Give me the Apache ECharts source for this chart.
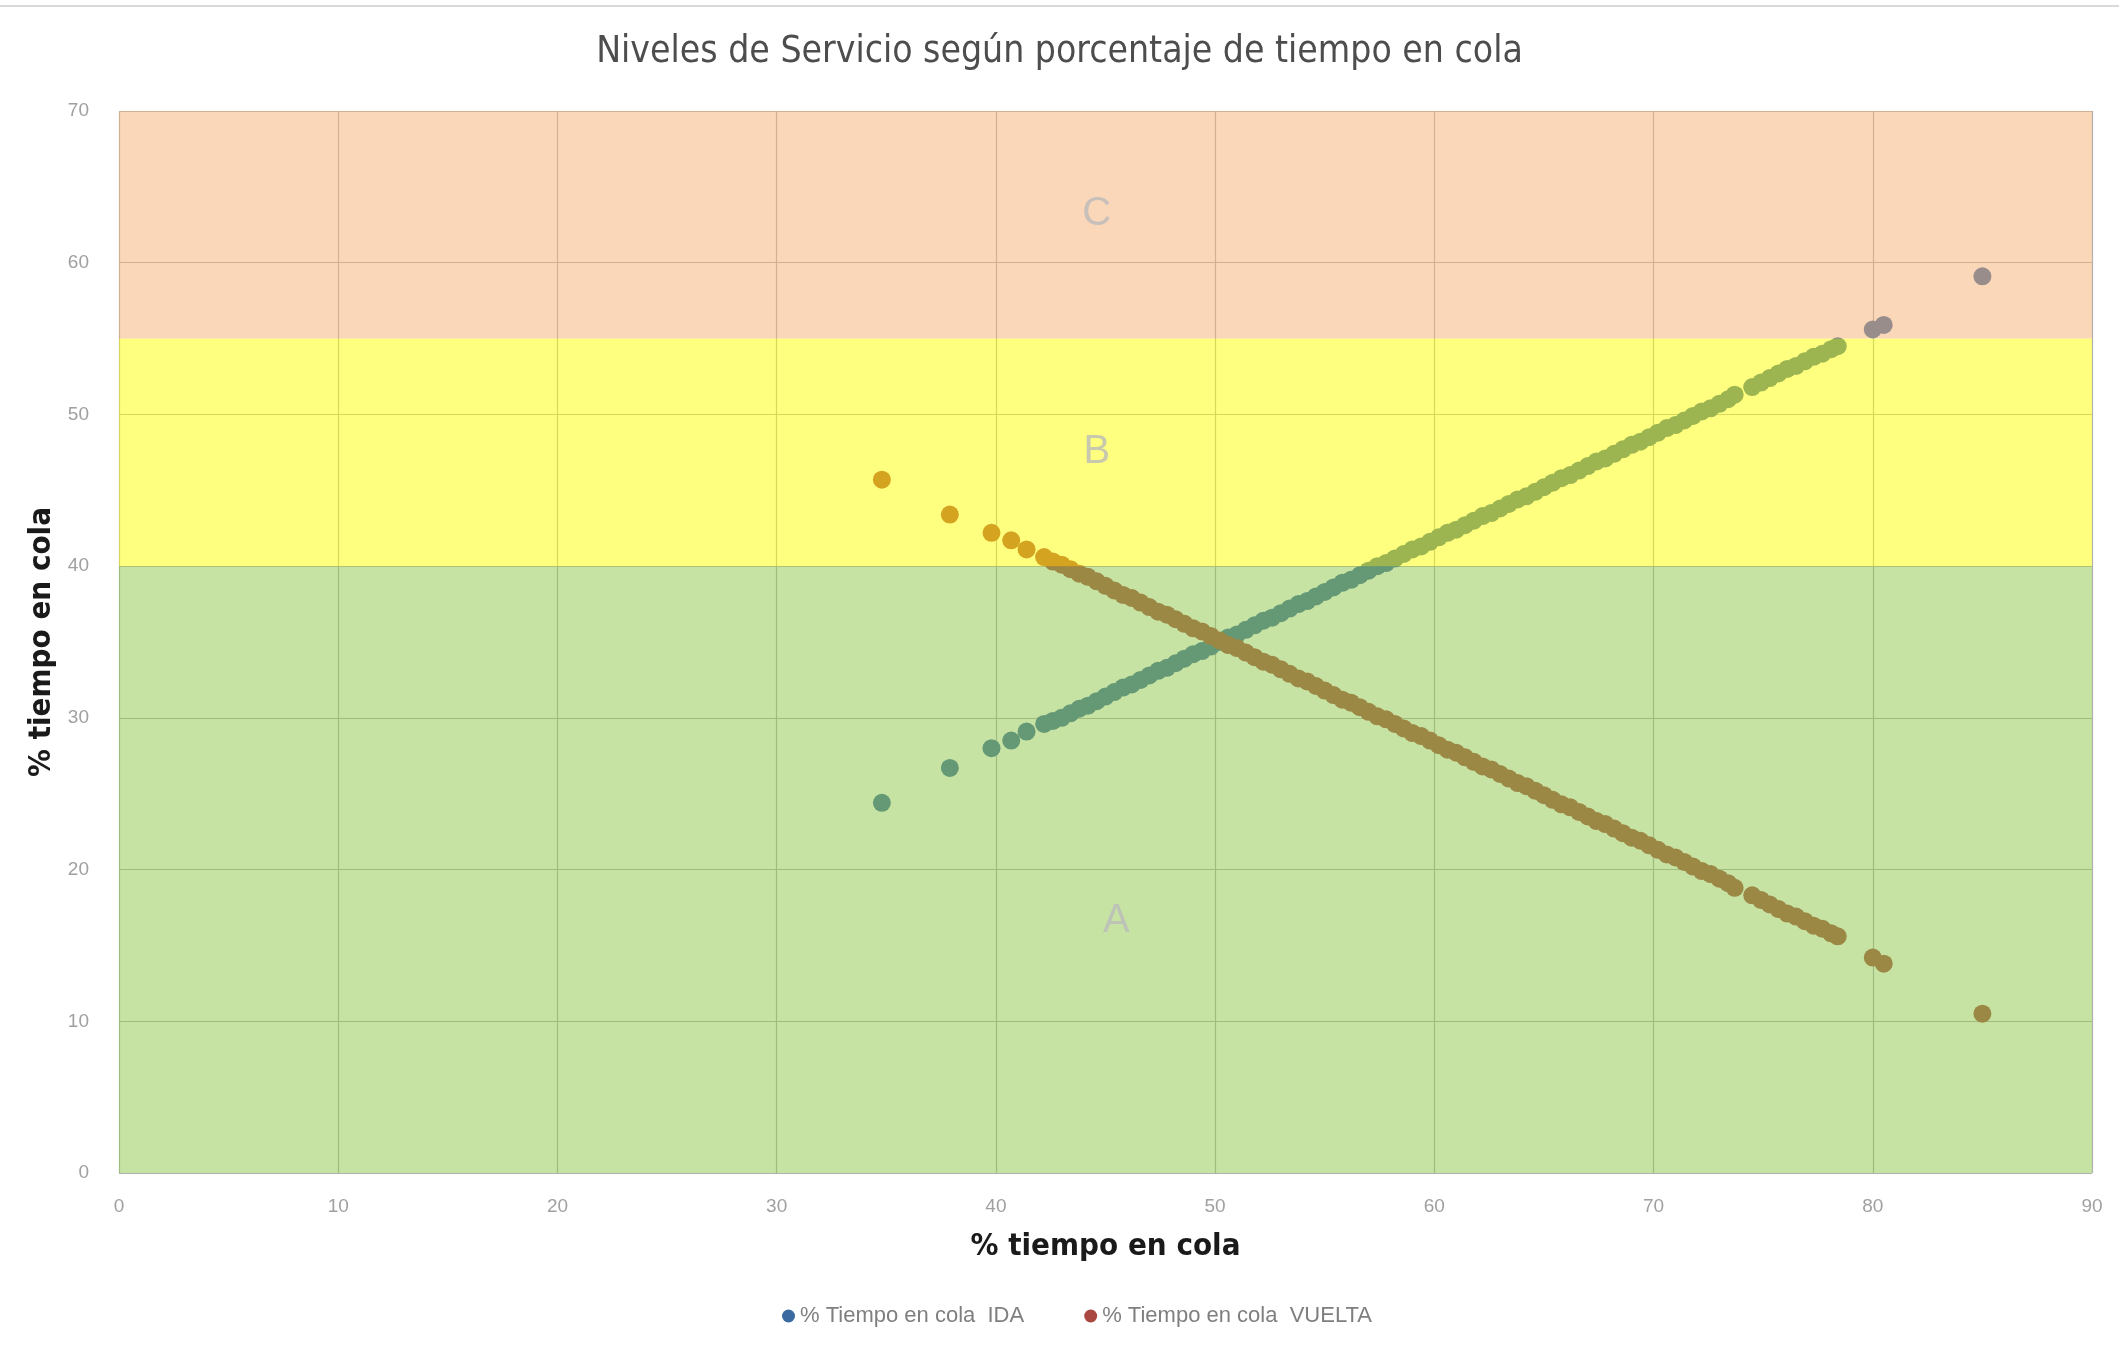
<!DOCTYPE html>
<html><head><meta charset="utf-8">
<script src="https://cdn.jsdelivr.net/npm/echarts@6/dist/echarts.min.js"></script>
<style>html,body{margin:0;padding:0;background:#fff}#c{width:2119px;height:1362px}</style>
</head><body><div id="c"></div>
<script>
const chartTitle = 'Niveles de Servicio según porcentaje de tiempo en cola';
const axisTitle = '% tiempo en cola';
const seriesNames = ['% Tiempo en cola  IDA', '% Tiempo en cola  VUELTA'];

// x values (% tiempo en cola) shared by both series
const pctCola = [34.8,37.9,39.8,40.7,41.4,42.2,42.6,43.0,43.4,43.8,44.2,44.6,45.0,45.4,45.8,46.2,46.6,47.0,47.4,47.8,48.2,48.6,49.0,49.4,49.8,50.2,50.6,51.0,51.4,51.8,52.2,52.6,53.0,53.4,53.8,54.2,54.6,55.0,55.4,55.8,56.2,56.6,57.0,57.4,57.8,58.2,58.6,59.0,59.4,59.8,60.2,60.6,61.0,61.4,61.8,62.2,62.6,63.0,63.4,63.8,64.2,64.6,65.0,65.4,65.8,66.2,66.6,67.0,67.4,67.8,68.2,68.6,69.0,69.4,69.8,70.2,70.6,71.0,71.4,71.8,72.2,72.6,73.0,73.4,73.7,74.5,74.9,75.3,75.7,76.1,76.5,76.9,77.3,77.7,78.1,78.4,80.0,80.5,85.0];
const idaVals = [24.4,26.7,28.0,28.5,29.1,29.6,29.8,30.0,30.3,30.6,30.8,31.1,31.4,31.7,32.0,32.2,32.5,32.8,33.1,33.3,33.6,33.9,34.2,34.4,34.7,35.0,35.3,35.5,35.8,36.1,36.4,36.6,36.9,37.2,37.5,37.7,38.0,38.3,38.6,38.9,39.1,39.4,39.7,40.0,40.2,40.5,40.8,41.1,41.3,41.6,41.9,42.2,42.4,42.7,43.0,43.3,43.5,43.8,44.1,44.4,44.6,44.9,45.2,45.5,45.8,46.0,46.3,46.6,46.9,47.1,47.4,47.7,48.0,48.2,48.5,48.8,49.1,49.3,49.6,49.9,50.2,50.4,50.7,51.0,51.3,51.8,52.1,52.4,52.7,53.0,53.2,53.5,53.8,54.0,54.3,54.5,55.6,55.9,59.1];
const vueltaVals = [45.7,43.4,42.2,41.7,41.1,40.6,40.3,40.1,39.8,39.5,39.3,39.0,38.7,38.4,38.1,37.9,37.6,37.3,37.0,36.8,36.5,36.2,35.9,35.7,35.4,35.1,34.8,34.6,34.3,34.0,33.7,33.5,33.2,32.9,32.6,32.4,32.1,31.8,31.5,31.2,31.0,30.7,30.4,30.1,29.9,29.6,29.3,29.0,28.8,28.5,28.2,27.9,27.7,27.4,27.1,26.8,26.6,26.3,26.0,25.7,25.5,25.2,24.9,24.6,24.3,24.1,23.8,23.5,23.2,23.0,22.7,22.4,22.1,21.9,21.6,21.3,21.0,20.8,20.5,20.2,19.9,19.7,19.4,19.1,18.8,18.3,18.0,17.7,17.4,17.1,16.9,16.6,16.3,16.1,15.8,15.6,14.2,13.8,10.5];

// service level bands (y ranges) and their labels
const bandEdges = [0, 40, 55, 70];
const bandNames = ['A', 'B', 'C'];
const bandColors = ['#8fc74a', '#ffff00', '#f5b073'];
const bandLabelX = [45.5, 44.6, 44.6];
const bandLabelY = [16.6, 47.5, 63.2];

const idaData = pctCola.map((x, i) => [x, idaVals[i]]);
const vueltaData = pctCola.map((x, i) => [x, vueltaVals[i]]);
const bandAreas = bandNames.map((n, i) => [
  { yAxis: bandEdges[i], itemStyle: { color: bandColors[i], opacity: 0.5 } },
  { yAxis: bandEdges[i + 1] }
]);
const bandLabelData = bandNames.map((n, i) => ({ value: [bandLabelX[i], bandLabelY[i]], name: n }));

const chart = echarts.init(document.getElementById('c'), null, { renderer: 'canvas' });
chart.setOption({
  animation: false,
  backgroundColor: '#ffffff',
  title: {
    text: chartTitle,
    left: 'center',
    top: 29,
    textStyle: { color: '#4d4d4d', fontSize: 37, fontWeight: 'normal', fontFamily: "'Liberation Sans Narrow', 'DejaVu Sans Condensed', sans-serif" }
  },
  graphic: [{ type: 'line', shape: { x1: 0, y1: 6, x2: 2119, y2: 6 }, style: { stroke: '#d9d9d9', lineWidth: 2 } }],
  legend: {
    data: seriesNames,
    bottom: 30,
    left: 777,
    icon: 'circle',
    itemWidth: 13,
    itemHeight: 13,
    itemGap: 60,
    textStyle: { color: '#7f7f7f', fontSize: 22, fontFamily: "'Liberation Sans', sans-serif" }
  },
  grid: { left: 119, right: 27, top: 111, bottom: 189 },
  xAxis: {
    type: 'value', min: 0, max: 90, interval: 10,
    name: axisTitle, nameLocation: 'middle', nameGap: 58,
    nameTextStyle: { color: '#1a1a1a', fontSize: 31, fontWeight: 'bold', fontFamily: "'Liberation Sans Narrow', 'DejaVu Sans Condensed', sans-serif" },
    axisLine: { show: false }, axisTick: { show: false },
    axisLabel: { color: '#a0a0a0', fontSize: 19, margin: 24, fontFamily: "'Liberation Sans', sans-serif" },
    splitLine: { show: true, lineStyle: { color: '#b0b0b0', width: 1.2 } }
  },
  yAxis: {
    type: 'value', min: 0, max: 70, interval: 10,
    name: axisTitle, nameLocation: 'middle', nameGap: 62,
    nameTextStyle: { color: '#1a1a1a', fontSize: 31, fontWeight: 'bold', fontFamily: "'Liberation Sans Narrow', 'DejaVu Sans Condensed', sans-serif" },
    axisLine: { show: false }, axisTick: { show: false },
    axisLabel: { color: '#a0a0a0', fontSize: 19, margin: 30, fontFamily: "'Liberation Sans', sans-serif" },
    splitLine: { show: true, lineStyle: { color: '#b0b0b0', width: 1.2 } }
  },
  series: [
    { name: seriesNames[0], type: 'scatter', data: idaData, symbolSize: 18, z: 2, itemStyle: { color: '#3a6aa0', opacity: 1 } },
    { name: seriesNames[1], type: 'scatter', data: vueltaData, symbolSize: 18, z: 3, itemStyle: { color: '#a84840', opacity: 1 } },
    { name: 'bands', type: 'scatter', data: [], z: 5, silent: true,
      markArea: { silent: true, z: 5, data: bandAreas } },
    { name: 'bandLabels', type: 'scatter', data: bandLabelData, z: 10, silent: true, symbolSize: 0,
      label: { show: true, position: 'inside', formatter: p => p.name, color: '#bababa', fontSize: 40, fontFamily: "'Liberation Sans', sans-serif" } }
  ]
});
</script></body></html>
